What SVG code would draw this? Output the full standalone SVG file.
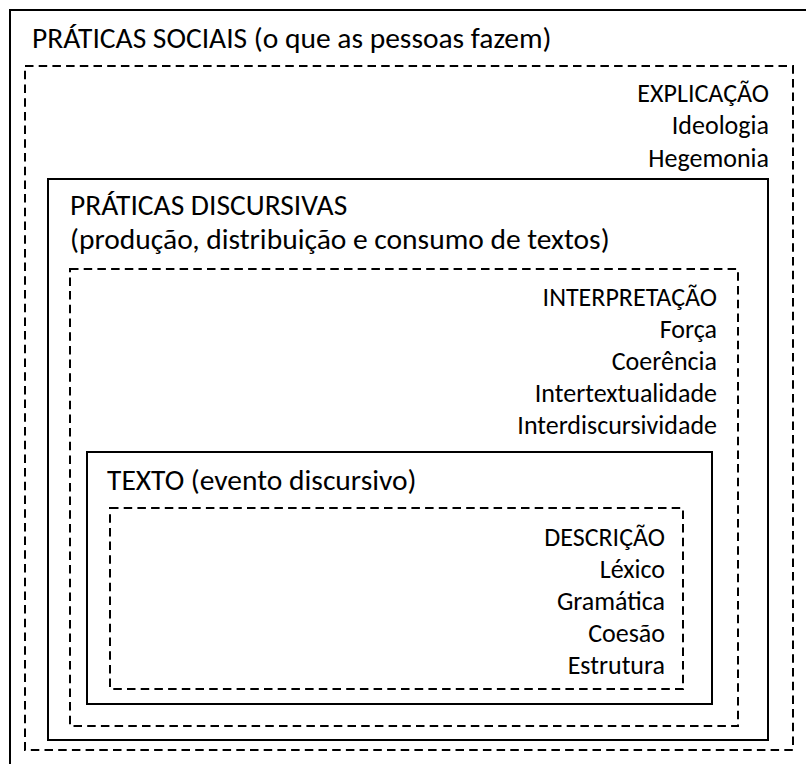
<svg xmlns="http://www.w3.org/2000/svg" width="806" height="764" viewBox="0 0 806 764">
<style>
.solid{fill:none;stroke:#000;stroke-width:2}
.dash{fill:none;stroke:#000;stroke-width:2;stroke-dasharray:8.5 5.2}
text{font-family:Carlito,Lato,"Liberation Sans",sans-serif;font-size:26px;fill:#000}
.h{font-size:29.5px}
.r{text-anchor:end}
</style>
<rect width="806" height="764" fill="#fff"/>
<g id="praticas-sociais">
<rect class="solid" x="10" y="10" width="820" height="780"/>
<text class="h" x="32" y="48">PRÁTICAS SOCIAIS (o que as pessoas fazem)</text>
</g>
<g id="explicacao">
<rect class="dash" x="25" y="66" width="768" height="684"/>
<text class="r" x="769" y="102">EXPLICAÇÃO</text>
<text class="r" x="769" y="134">Ideologia</text>
<text class="r" x="769" y="167">Hegemonia</text>
</g>
<g id="praticas-discursivas">
<rect class="solid" x="48" y="179" width="720" height="561"/>
<text class="h" x="70" y="215">PRÁTICAS DISCURSIVAS</text>
<text class="h" x="70" y="249">(produção, distribuição e consumo de textos)</text>
</g>
<g id="interpretacao">
<rect class="dash" x="70" y="269" width="668" height="457"/>
<text class="r" x="717" y="306">INTERPRETAÇÃO</text>
<text class="r" x="717" y="338">Força</text>
<text class="r" x="717" y="370">Coerência</text>
<text class="r" x="717" y="402">Intertextualidade</text>
<text class="r" x="717" y="434">Interdiscursividade</text>
</g>
<g id="texto">
<rect class="solid" x="87" y="452" width="625" height="252"/>
<text class="h" x="107" y="490">TEXTO (evento discursivo)</text>
</g>
<g id="descricao">
<rect class="dash" x="110" y="508" width="573" height="181"/>
<text class="r" x="665" y="546">DESCRIÇÃO</text>
<text class="r" x="665" y="578">Léxico</text>
<text class="r" x="665" y="610">Gramática</text>
<text class="r" x="665" y="642">Coesão</text>
<text class="r" x="665" y="674">Estrutura</text>
</g>
<g id="connectors"></g>
</svg>
